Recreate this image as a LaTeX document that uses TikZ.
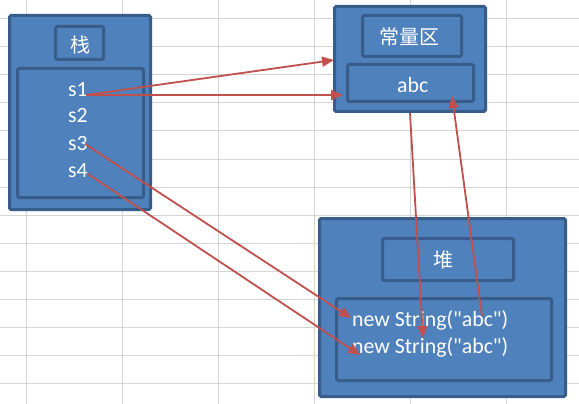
\documentclass[tikz,border=0pt]{standalone}
\usepackage{fontspec}
\setmainfont{Carlito}[Ligatures=TeXOff]
\newfontfamily\cjk{Noto Sans CJK SC}
\usetikzlibrary{arrows.meta}
\definecolor{boxfill}{HTML}{4F81BD}
\definecolor{boxline}{HTML}{385D8A}
\definecolor{arrred}{HTML}{C0504D}
\definecolor{gridgray}{HTML}{D4D4D4}
\tikzset{
  panel/.style={draw=boxline, fill=boxfill, line width=3pt, rounded corners=1.5pt, inner sep=0pt},
  lbl/.style={text=white, inner sep=0pt, font=\fontsize{21.8}{26}\selectfont},
  cjklbl/.style={text=white, inner sep=0pt, font=\cjk\fontsize{20}{24}\selectfont},
  arr/.style={draw=arrred, line width=1.8pt, -{Triangle[length=12pt,width=10pt]}},
}
\begin{document}
\begin{tikzpicture}[x=1pt,y=-1pt]
\useasboundingbox (0,0) rectangle (579,404);
\fill[white] (0,0) rectangle (579,404);
% grid
\foreach \k in {0,...,5} \draw[gridgray, line width=1pt] (26+96*\k,0) -- (26+96*\k,404);
\foreach \k in {0,...,13} \draw[gridgray, line width=1pt] (0,19+28*\k) -- (579,19+28*\k);
% stack
\node[panel, minimum width=141pt, minimum height=194pt] (stackout) at (80,112.5) {};
\node[panel, minimum width=48pt, minimum height=33pt] (stacktitle) at (79.5,43) {};
\node[cjklbl] (zhan) at (80,45) {栈};
\node[panel, minimum width=126pt, minimum height=129pt] (stackin) at (80.5,133) {};
\node[lbl, anchor=base west] (s1) at (68,96) {s1};
\node[lbl, anchor=base west] (s2) at (68,123) {s2};
\node[lbl, anchor=base west] (s3) at (68,150) {s3};
\node[lbl, anchor=base west] (s4) at (68,177) {s4};
% constant area
\node[panel, minimum width=151pt, minimum height=105pt] (constout) at (410,59) {};
\node[panel, minimum width=99pt, minimum height=41pt] (consttitle) at (412,36) {};
\node[cjklbl] (changliang) at (409,37) {常量区};
\node[panel, minimum width=126pt, minimum height=37pt] (abcbox) at (410.5,83) {};
\node[lbl, anchor=base west] (abc) at (397,93) {abc};
% heap
\node[panel, minimum width=246pt, minimum height=178pt] (heapout) at (442.5,307.5) {};
\node[panel, minimum width=131pt, minimum height=42pt] (heaptitle) at (448,259.5) {};
\node[cjklbl] (dui) at (443,260) {堆};
\node[panel, minimum width=215pt, minimum height=82pt] (heapin) at (444,339.5) {};
\node[lbl, anchor=base west] (str1) at (352,326) {new String("abc")};
\node[lbl, anchor=base west] (str2) at (352,353) {new String("abc")};
% arrow endpoints
\coordinate (a1) at (86,95);
\coordinate (t1) at (334,60);
\coordinate (t2) at (343,95);
\coordinate (a3) at (85,144);
\coordinate (t3) at (351,318);
\coordinate (a4) at (88,174);
\coordinate (t4) at (360,355);
\coordinate (t5) at (423,338);
\coordinate (a6) at (482,316);
\coordinate (t6) at (452,96);
\draw[arr] (a1) -- (t1);
\draw[arr] (a1) -- (t2);
\draw[arr] (a3) -- (t3);
\draw[arr] (a4) -- (t4);
\draw[arr] (constout.south) -- (t5);
\draw[arr] (a6) -- (t6);
\end{tikzpicture}
\end{document}
